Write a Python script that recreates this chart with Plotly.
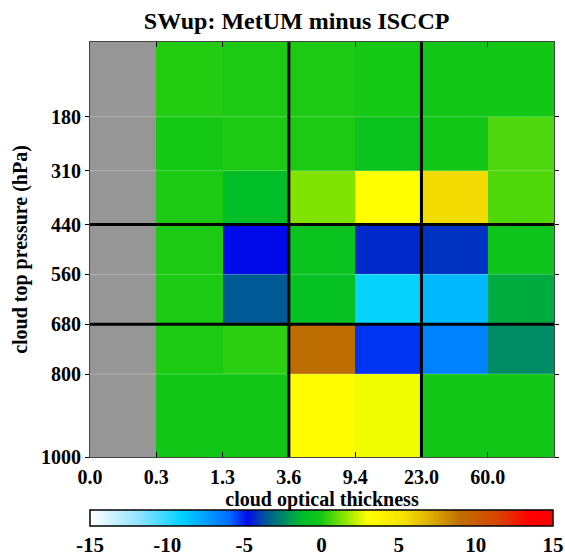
import plotly.graph_objects as go
import numpy as np

nan = np.nan
tau_labels = ["0.0", "0.3", "1.3", "3.6", "9.4", "23.0", "60.0"]
pressure_edges = [0, 180, 310, 440, 560, 680, 800, 1000]
pressure_ticks = [180, 310, 440, 560, 680, 800, 1000]
cbar_ticks = [-15, -10, -5, 0, 5, 10, 15]

# rows top (0-180 hPa) to bottom (800-1000 hPa); columns tau bins 0-0.3 ... 60+
row_0_180 = [nan, 0.2, 0.1, 0.1, 0.0, -0.2, -0.1]
row_180_310 = [nan, 0.0, 0.1, 0.1, -0.6, -0.1, 0.7]
row_310_440 = [nan, 0.1, -1.2, 1.35, 3.0, 5.6, 0.75]
row_440_560 = [nan, 0.1, -4.8, -0.6, -4.35, -4.2, -0.4]
row_560_680 = [nan, 0.1, -3.6, -0.9, -9.15, -8.25, -1.65]
row_680_800 = [nan, 0.1, 0.3, 9.0, -5.3, -6.6, -2.4]
row_800_1000 = [nan, -0.2, -0.2, 3.2, 2.8, -0.2, -0.2]

z = [row_0_180, row_180_310, row_310_440, row_440_560,
     row_560_680, row_680_800, row_800_1000]

colorscale = [
    [0.00, "rgb(255,255,255)"],
    [0.10, "rgb(150,230,255)"],
    [0.20, "rgb(0,210,255)"],
    [0.30, "rgb(0,110,255)"],
    [0.34, "rgb(0,10,235)"],
    [0.38, "rgb(0,90,150)"],
    [0.42, "rgb(0,140,100)"],
    [0.46, "rgb(0,190,40)"],
    [0.50, "rgb(20,200,20)"],
    [0.55, "rgb(140,230,0)"],
    [0.60, "rgb(255,255,0)"],
    [0.68, "rgb(245,225,0)"],
    [0.74, "rgb(220,170,0)"],
    [0.80, "rgb(190,110,0)"],
    [0.88, "rgb(215,70,0)"],
    [0.95, "rgb(255,0,0)"],
    [1.00, "rgb(255,0,0)"],
]

FONT = "Liberation Serif"
x_edges = list(range(len(tau_labels) + 1))

fig = go.Figure()
fig.add_trace(go.Heatmap(
    z=z, x=x_edges, y=pressure_edges,
    zmin=-15, zmax=15, colorscale=colorscale,
    hoverongaps=False,
    colorbar=dict(
        orientation="h", x=0, xanchor="left", len=0.998, lenmode="fraction",
        y=-0.1277, yanchor="top", thickness=16, xpad=0, ypad=0,
        outlinewidth=1.5, outlinecolor="black",
        tickvals=cbar_ticks, ticktext=[str(v) for v in cbar_ticks],
        ticks="outside", ticklen=1, tickcolor="rgba(0,0,0,0)",
        tickfont=dict(family=FONT, size=21, color="black", weight="bold"),
    ),
))

# faint row separators
for p in [180, 310, 560, 800]:
    fig.add_shape(type="line", xref="x", yref="y", x0=0, x1=7, y0=p, y1=p,
                  line=dict(color="rgba(255,255,255,0.25)", width=1))
# thick black dividers
for xv in [3, 5]:
    fig.add_shape(type="line", xref="x", yref="y", x0=xv, x1=xv, y0=0, y1=1000,
                  line=dict(color="black", width=3))
for yv in [440, 680]:
    fig.add_shape(type="line", xref="x", yref="y", x0=0, x1=7, y0=yv, y1=yv,
                  line=dict(color="black", width=3))

fig.update_layout(
    width=565, height=559,
    margin=dict(l=90, r=11, t=42, b=102, autoexpand=False),
    paper_bgcolor="white", plot_bgcolor="rgb(150,150,150)",
    title=dict(text="SWup: MetUM minus ISCCP", x=0.525, xanchor="center",
               y=0.964, yanchor="middle",
               font=dict(family=FONT, size=24, color="black", weight="bold")),
    xaxis=dict(
        range=[0, 7], tickvals=list(range(len(tau_labels))), ticktext=tau_labels,
        ticks="inside", ticklen=5, tickcolor="black", mirror="ticks",
        ticklabelstandoff=2,
        showline=True, linecolor="rgb(70,70,70)", linewidth=1,
        showgrid=False, zeroline=False,
        tickfont=dict(family=FONT, size=20, color="black", weight="bold"),
        title=dict(text="cloud optical thickness", standoff=0,
                   font=dict(family=FONT, size=20, color="black", weight="bold")),
    ),
    yaxis=dict(
        range=[1000, 0], tickvals=pressure_ticks,
        ticktext=[str(v) for v in pressure_ticks],
        ticks="outside", ticklen=4, tickcolor="black", mirror="ticks",
        showline=True, linecolor="rgb(70,70,70)", linewidth=1,
        showgrid=False, zeroline=False,
        tickfont=dict(family=FONT, size=20, color="black", weight="bold"),
        title=dict(text="cloud top pressure (hPa)", standoff=8,
                   font=dict(family=FONT, size=20, color="black", weight="bold")),
    ),
)

fig.write_html("out.html")
